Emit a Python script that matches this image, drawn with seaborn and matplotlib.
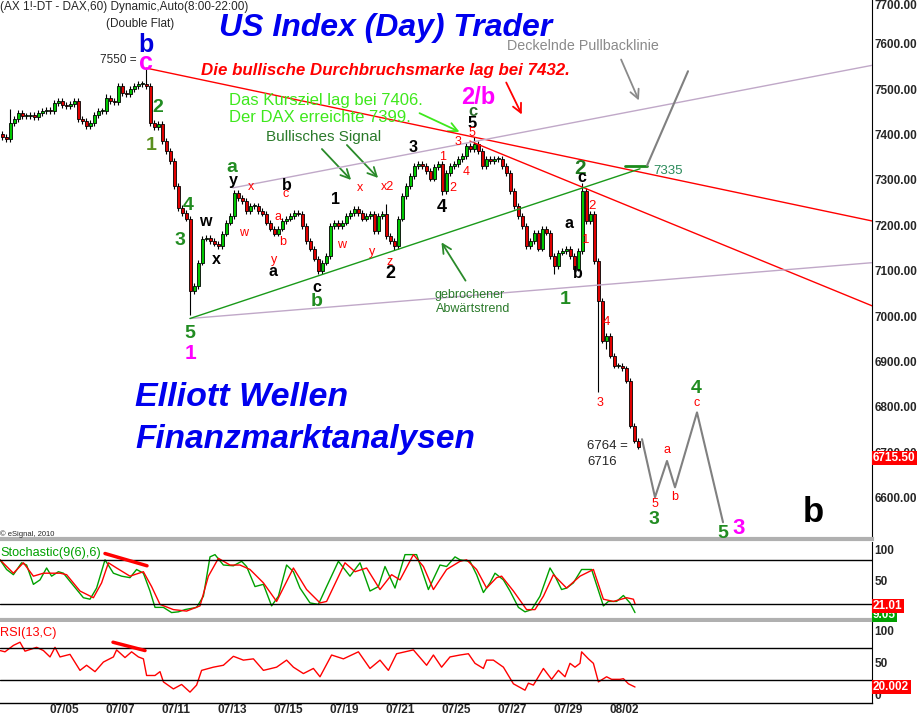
import numpy as np
import pandas as pd
import matplotlib
matplotlib.use("Agg")
import matplotlib.pyplot as plt
import seaborn as sns

# Hourly DAX future, one candle per 2 hours, x in session hours (14 per day)
closes = [7398, 7394, 7429, 7438, 7451, 7444, 7444, 7447, 7442, 7451,
          7455, 7458, 7455, 7473, 7477, 7469, 7466, 7471, 7477, 7438,
          7433, 7422, 7429, 7447, 7455, 7455, 7484, 7477, 7475, 7510,
          7495, 7493, 7504, 7510, 7515, 7515, 7510, 7429, 7420, 7427,
          7389, 7367, 7345, 7290, 7242, 7231, 7218, 7059, 7070, 7121,
          7174, 7176, 7169, 7163, 7158, 7185, 7209, 7224, 7275, 7264,
          7257, 7235, 7246, 7246, 7235, 7229, 7209, 7196, 7185, 7196,
          7213, 7218, 7224, 7231, 7229, 7202, 7169, 7152, 7130, 7103,
          7121, 7136, 7202, 7209, 7202, 7209, 7224, 7231, 7240, 7231,
          7218, 7224, 7229, 7191, 7224, 7229, 7180, 7169, 7158, 7218,
          7268, 7290, 7312, 7334, 7339, 7334, 7323, 7306, 7332, 7339,
          7279, 7319, 7334, 7339, 7350, 7356, 7378, 7372, 7383, 7367,
          7334, 7350, 7345, 7350, 7350, 7334, 7319, 7279, 7246, 7224,
          7202, 7158, 7169, 7187, 7152, 7196, 7187, 7136, 7114, 7143,
          7147, 7152, 7136, 7108, 7147, 7279, 7213, 7229, 7125, 7037,
          6949, 6960, 6916, 6894, 6894, 6888, 6861, 6762, 6729, 6715.5]
first_open = 7405
# notable wicks: (candle index, high, low)
wicks = [(2, 7460, None), (26, 7492, None), (36, 7550, None), (47, None, 7005),
         (96, 7250, None), (98, None, 7150), (110, None, 7270), (118, 7399, None),
         (138, None, 7095), (145, 7297, None), (149, None, 6835), (151, None, 6930)]

# trend lines (hour, price)
red_upper = [(73, 7550), (436, 7213)]
red_steep = [(235, 7389), (436, 7026)]
pullback_upper = [(116.5, 7286), (436, 7556)]
pullback_lower = [(95, 6998), (436, 7121)]
green_trend = [(95, 6998), (320, 7328)]
target_7335 = [(312.5, 7335), (323.5, 7335)]
proj_up = [(323.5, 7335), (344, 7543)]
proj_down_h = [321, 327.5, 333.5, 337.5, 348.5, 361.5]
proj_down_p = [6732, 6604, 6684, 6626, 6791, 6549]

# Stochastic %K (green) and %D (red)
stk_h = [0, 3.3, 6.7, 10.8, 13.3, 16.7, 20, 23.3, 25.8, 29.2, 31.7, 35, 41.7, 45,
         48.3, 52.5, 56.7, 60.8, 65, 68.3, 71.7, 75, 77.5, 81.7, 85.8, 89.2, 92.5,
         98.3, 101.7, 105, 107.5, 111.7, 116.7, 120.8, 123.3, 127.5, 131.7, 135.8,
         139.2, 143.3, 146.7, 150, 155, 159.2, 163.3, 169.2, 175, 180, 185, 189.2,
         192.5, 197.5, 202.5, 208.3, 214.2, 220, 223.3, 227.5, 230, 235, 238.3,
         241.7, 245, 247.5, 251.7, 255, 259.2, 262.5, 265.8, 270, 275, 277.5, 280.8,
         283.3, 286.7, 290.8, 295.8, 301.7, 304.2, 308.3, 311.7, 315, 317.5]
stk_v = [80, 67, 60, 76, 73, 47, 53, 69, 58, 64, 62, 51, 29, 27,
         42, 80, 62, 58, 56, 67, 62, 38, 16, 16, 9, 10, 13,
         16, 31, 84, 87, 73, 72, 78, 71, 44, 47, 18,
         31, 73, 64, 42, 22, 20, 44, 78, 58, 76, 38, 44,
         71, 42, 87, 87, 40, 73, 71, 84, 80, 78, 60,
         36, 49, 62, 53, 38, 16, 10, 13, 31, 69, 58, 40,
         42, 49, 67, 67, 18, 24, 24, 32, 22, 9]
std_h = [0, 6.7, 11.7, 16.7, 21.7, 30, 33.3, 40, 46.7, 50.8, 54.2, 58.3, 65, 71.7,
         75.8, 80, 86.7, 93.3, 100, 104.2, 109.2, 115, 120, 125, 131.7, 138.3,
         146.7, 153.3, 160, 163.3, 172.5, 177.5, 183.3, 190, 195.8, 200, 206.7,
         211.7, 216.7, 223.3, 230, 233.3, 238.3, 243.3, 248.3, 250.8, 256.7, 263.3,
         267.5, 271.7, 276.7, 283.3, 290, 296.7, 301.7, 306.7, 313.3, 316.7, 317.5]
std_v = [80, 62, 76, 58, 62, 62, 60, 38, 29, 49, 76, 69, 58, 64,
         44, 20, 13, 11, 18, 58, 82, 73, 73, 67, 49, 24,
         69, 40, 22, 24, 76, 64, 69, 40, 60, 53, 87,
         71, 40, 67, 78, 80, 67, 42, 56, 58, 38, 13,
         13, 31, 60, 42, 58, 67, 27, 24, 29, 27, 21]

# RSI(13)
rsi_h = [0, 2.5, 6.7, 10, 12.5, 18.3, 21.7, 25, 27.5, 30, 35, 40, 43.3, 47.5, 51.7,
         56.7, 58.3, 62.5, 65.8, 69.2, 71.7, 73.3, 77.5, 80, 81.7, 86.7, 90.8, 95,
         98.3, 100.8, 106.7, 111.7, 116.7, 121.7, 126.7, 131.7, 138.3, 143.3, 146.7,
         151.7, 156.7, 160, 165.8, 171.7, 179.2, 185, 190, 194.2, 198.3, 206.7,
         213.3, 216.7, 220.8, 225, 230, 234.2, 237.5, 241.7, 243.3, 246.7, 251.7,
         256.7, 262.5, 264.2, 266.7, 271.7, 275.8, 279.2, 282.5, 285, 287.5, 290,
         290.8, 294.2, 296.7, 299.2, 303.3, 305.8, 310, 311.7, 314.2, 317.5]
rsi_v = [71, 69, 79, 84, 70, 76, 71, 61, 76, 61, 65, 40, 48, 38, 53,
         61, 72, 60, 69, 61, 58, 32, 32, 38, 22, 11, 18, 6,
         17, 40, 45, 48, 62, 56, 58, 40, 45, 56, 45,
         35, 43, 30, 64, 58, 69, 43, 56, 40, 66, 72,
         48, 64, 45, 61, 64, 66, 51, 43, 56, 56, 45,
         19, 9, 20, 17, 43, 26, 40, 30, 51, 45, 51,
         69, 58, 51, 22, 30, 26, 26, 27, 19, 14]
stoch_div = [(52.5, 88.5), (73.5, 72)]
rsi_div = [(56.5, 84), (72.5, 71)]

price_ticks = [6600, 6700, 6800, 6900, 7000, 7100, 7200, 7300, 7400, 7500, 7600, 7700]
date_labels = ["07/05", "07/07", "07/11", "07/13", "07/15", "07/19", "07/21",
               "07/25", "07/27", "07/29", "08/02"]
date_hours = [32, 60, 88, 116, 144, 172, 200, 228, 256, 284, 312]

sns.set_style("white")
plt.rcParams['font.family'] = ['Liberation Sans', 'DejaVu Sans']

W, H = 919, 719
fig = plt.figure(figsize=(W / 100, H / 100), dpi=100)
fig.patch.set_facecolor("white")


def box(top, bottom):
    return [0, 1 - bottom / H, 872 / W, (bottom - top) / H]


ax = fig.add_axes(box(0, 539))
ax_st = fig.add_axes(box(542, 620))
ax_rsi = fig.add_axes(box(622, 703))

for a in (ax, ax_st, ax_rsi):
    a.set_xlim(0, 436)
    a.set_xticks([])
    a.set_yticks([])
    for s in ("left", "top"):
        a.spines[s].set_visible(False)
    a.spines["right"].set_color("black")
    a.spines["bottom"].set_color("#b0b0b0")
    a.spines["bottom"].set_linewidth(3)
ax_rsi.spines["bottom"].set_color("black")
ax_rsi.spines["bottom"].set_linewidth(1)

ax.set_ylim(6512, 7700)
ax_st.set_ylim(-1, 104)
ax_rsi.set_ylim(-11, 115.6)

# ---- candles
df = pd.DataFrame({"close": closes})
df["hour"] = 1 + 2 * df.index
df["open"] = df["close"].shift(1).fillna(first_open)
df["high"] = df[["open", "close"]].max(axis=1) + 6
df["low"] = df[["open", "close"]].min(axis=1) - 6
for i, hi, lo in wicks:
    if hi is not None:
        df.loc[i, "high"] = hi
    if lo is not None:
        df.loc[i, "low"] = lo
up = df["close"] >= df["open"]
ax.vlines(df["hour"], df["low"], df["high"], color="black", lw=0.8, zorder=2)
body = (df["close"] - df["open"]).abs().clip(lower=2)
ax.bar(df["hour"], body, bottom=df[["open", "close"]].min(axis=1), width=1.5,
       color=np.where(up, "#00c800", "#e00000"), edgecolor="black", lw=0.6, zorder=3)

# ---- trend lines
for seg, col, lw in [(red_upper, "#ff0000", 1), (red_steep, "#ff0000", 1),
                     (pullback_upper, "#c0a8c8", 1), (pullback_lower, "#c0a8c8", 1),
                     (green_trend, "#1a9a1a", 1), (target_7335, "#1a8a1a", 2),
                     (proj_up, "#808080", 1.5)]:
    xs, ys = zip(*seg)
    ax.plot(xs, ys, color=col, lw=lw, zorder=4)
ax.plot(proj_down_h, proj_down_p, color="#808080", lw=1.5, zorder=4)

# ---- oscillators
sns.lineplot(x=stk_h, y=stk_v, ax=ax_st, color="#00a000", lw=1)
sns.lineplot(x=std_h, y=std_v, ax=ax_st, color="#ff0000", lw=1)
for lvl in (80, 20):
    ax_st.axhline(lvl, color="black", lw=1)
xs, ys = zip(*stoch_div)
ax_st.plot(xs, ys, color="#ff0000", lw=2.5)

sns.lineplot(x=rsi_h, y=rsi_v, ax=ax_rsi, color="#ff0000", lw=1)
for lvl in (75, 25):
    ax_rsi.axhline(lvl, color="black", lw=1)
xs, ys = zip(*rsi_div)
ax_rsi.plot(xs, ys, color="#ff0000", lw=2.5)

ax_rsi.set_xticks(date_hours, date_labels)
ax_rsi.tick_params(axis="x", length=0, pad=1, labelsize=8.5)
for t in ax_rsi.get_xticklabels():
    t.set_fontweight("bold")

# ---- right axis labels
tf = dict(fontsize=8.5, fontweight="bold", ha="left")
for p in price_ticks:
    ax.text(1.003, p, f"{p:.2f}", transform=ax.get_yaxis_transform(),
            va="top" if p == 7700 else "center", **tf)
for v, lab in [(100, "100"), (50, "50")]:
    ax_st.text(1.003, v, lab, transform=ax_st.get_yaxis_transform(),
               va="top" if v == 100 else "center", **tf)
for v, lab in [(100, "100"), (50, "50"), (0, "0")]:
    ax_rsi.text(1.003, v, lab, transform=ax_rsi.get_yaxis_transform(), va="center", **tf)


def put(txt, px, py, **kw):
    kw.setdefault("ha", "center")
    kw.setdefault("va", "center")
    fig.text(px / W, 1 - py / H, txt, **kw)


def badge(txt, py, col):
    put(txt, 873, py, ha="left", color="white", fontsize=8.5, fontweight="bold",
        bbox=dict(boxstyle="square,pad=0.12", fc=col, ec="none"))


badge("6715.50", 458, "#ff0000")
badge("9.05", 615, "#00a000")
badge("21.01", 606, "#ff0000")
badge("20.002", 687, "#ff0000")

# ---- titles and comments
put("(AX 1!-DT - DAX,60) Dynamic,Auto(8:00-22:00)", 0, 7, ha="left", fontsize=8.5)
put("(Double Flat)", 140, 24, fontsize=8.5)
put("7550 =", 137, 60, ha="right", fontsize=8.5)
put("US Index (Day) Trader", 386, 28, color="#0000ee", fontsize=23,
    fontweight="bold", style="italic")
put("Die bullische Durchbruchsmarke lag bei 7432.", 385, 70, color="#ff0000",
    fontsize=12.2, fontweight="bold", style="italic")
put("Deckelnde Pullbacklinie", 583, 46, color="#8a8a8a", fontsize=10.3)
put("Das Kursziel lag bei 7406.", 229, 100, ha="left", color="#3ee81c", fontsize=12)
put("Der DAX erreichte 7399.", 229, 118, ha="left", color="#3ee81c", fontsize=12)
put("Bullisches Signal", 324, 137, color="#2a7a2a", fontsize=11)
put("7335", 668, 171, color="#2a8a5a", fontsize=9.5)
put("gebrochener", 470, 295, color="#2a7a2a", fontsize=9)
put("Abwärtstrend", 473, 309, color="#2a7a2a", fontsize=9)
put("Elliott Wellen", 135, 398, ha="left", color="#0000ee", fontsize=24.5,
    fontweight="bold", style="italic")
put("Finanzmarktanalysen", 135, 440, ha="left", color="#0000ee", fontsize=24,
    fontweight="bold", style="italic")
put("6764 =", 587, 446, ha="left", fontsize=9.5)
put("6716", 587, 462, ha="left", fontsize=9.5)
put("© eSignal, 2010", 0, 534, ha="left", fontsize=5.5)
put("Stochastic(9(6),6)", 0, 553, ha="left", color="#00a000", fontsize=9.2)
put("RSI(13,C)", 0, 633, ha="left", color="#ff0000", fontsize=9.2)

# ---- wave labels: text, x, y, colour, size
G, OL, BK, RD, MG = "#218c21", "#5a8f1e", "black", "#ff0000", "#ff00ff"
waves = [("b", 146, 45, "#0000dd", 18), ("c", 146, 63, MG, 18), ("2/b", 478, 98, MG, 17),
         ("1", 190, 354, MG, 15), ("3", 739, 528, MG, 16), ("b", 813, 513, BK, 25),
         ("2", 158, 107, G, 14), ("1", 151, 145, OL, 14), ("4", 188, 205, G, 14),
         ("3", 180, 240, G, 14), ("5", 190, 333, G, 14), ("a", 232, 167, G, 14),
         ("b", 317, 302, G, 14), ("2", 580, 168, "#1f7a1f", 15), ("1", 565, 300, G, 14),
         ("3", 654, 520, G, 14), ("4", 696, 389, G, 14), ("5", 723, 533, G, 14),
         ("c", 473, 111, "#2a6a2a", 12),
         ("w", 205, 222, BK, 11.5), ("x", 216, 260, BK, 11.5), ("y", 233, 180, BK, 11.5),
         ("b", 287, 185, BK, 11.5), ("a", 273, 272, BK, 11.5), ("c", 317, 287, BK, 11.5),
         ("1", 335, 200, BK, 11.5), ("2", 390, 273, BK, 13), ("3", 413, 147, BK, 11.5),
         ("4", 442, 208, BK, 13), ("5", 472, 123, BK, 12), ("c", 582, 178, BK, 11.5),
         ("a", 569, 223, BK, 11.5), ("b", 578, 273, BK, 11.5),
         ("x", 251, 187, RD, 9), ("w", 244, 233, RD, 9), ("c", 286, 194, RD, 9),
         ("a", 278, 217, RD, 9), ("b", 283, 242, RD, 9), ("y", 274, 260, RD, 9),
         ("x", 360, 188, RD, 9), ("x2", 387, 187, RD, 9), ("w", 342, 245, RD, 9),
         ("y", 372, 252, RD, 9), ("z", 390, 262, RD, 9), ("1", 443, 157, RD, 9),
         ("2", 453, 188, RD, 9), ("3", 458, 142, RD, 9), ("4", 466, 172, RD, 9),
         ("5", 472, 133, RD, 9), ("2", 592, 206, RD, 9.5), ("1", 586, 240, RD, 9.5),
         ("4", 606, 322, RD, 9.5), ("3", 600, 403, RD, 9), ("5", 655, 504, RD, 9),
         ("a", 667, 450, RD, 9), ("b", 675, 497, RD, 9), ("c", 697, 403, RD, 9)]
for txt, px, py, col, fs in waves:
    bold = "normal" if col == RD else "bold"
    put(txt, px, py, color=col, fontsize=fs, fontweight=bold)

# ---- arrows (figure pixels)
arrows = [((417, 112), (462, 133), "#3ee81c"), ((320, 147), (353, 182), "#2a8a2a"),
          ((345, 143), (380, 180), "#2a8a2a"), ((467, 283), (440, 240), "#2a8a2a"),
          ((505, 80), (523, 117), "#ff0000"), ((620, 57), (640, 103), "#8a8a8a")]
for (x0, y0), (x1, y1), col in arrows:
    ax.annotate("", xy=(x1, H - y1), xytext=(x0, H - y0), xycoords="figure pixels",
                textcoords="figure pixels", annotation_clip=False,
                arrowprops=dict(arrowstyle="->", color=col, lw=1.3, mutation_scale=16))

fig.savefig("out.png", dpi=100, facecolor="white")
